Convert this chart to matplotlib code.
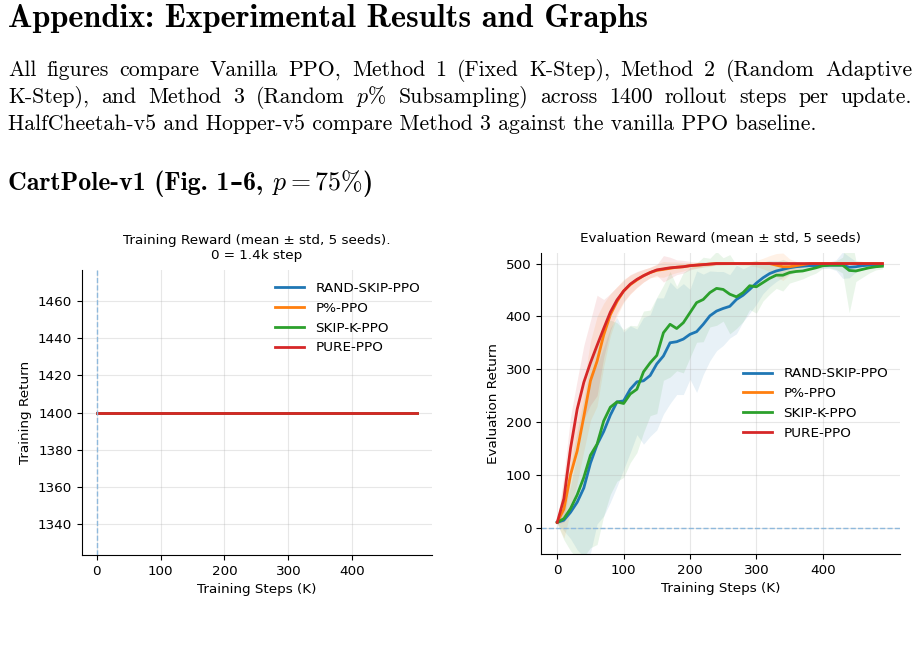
import matplotlib.pyplot as plt
import numpy as np

plt.rcParams['mathtext.fontset'] = 'cm'

# ---- data ----
labels = ['RAND-SKIP-PPO', 'P%-PPO', 'SKIP-K-PPO', 'PURE-PPO']
colors = ['tab:blue', 'tab:orange', 'tab:green', 'tab:red']

# training reward (all runs flat at 1400)
train_steps = [0, 100, 200, 300, 400, 501]
train_rand_skip = [1400, 1400, 1400, 1400, 1400, 1400]
train_p_pct = [1400, 1400, 1400, 1400, 1400, 1400]
train_skip_k = [1400, 1400, 1400, 1400, 1400, 1400]
train_pure = [1400, 1400, 1400, 1400, 1400, 1400]

# evaluation reward, every 10K steps
eval_steps = list(range(0, 500, 10))
eval_rand_skip = [10, 14, 29, 48, 75, 122, 157, 182, 213, 238,
                  240, 262, 276, 278, 288, 310, 325, 350, 352, 357,
                  366, 371, 385, 401, 410, 415, 419, 432, 440, 451,
                  463, 473, 481, 486, 489, 492, 494, 495, 496, 496,
                  496, 497, 497, 497, 493, 494, 496, 497, 498, 498]
eval_p_pct = [10, 35, 100, 145, 210, 278, 315, 365, 403, 428,
              448, 460, 469, 477, 483, 487, 489, 491, 493, 494,
              496, 497, 498, 499, 500, 500, 500, 500, 500, 500,
              500, 500, 500, 497, 494, 494, 496, 498, 500, 500,
              500, 500, 500, 500, 500, 500, 500, 500, 500, 500]
eval_skip_k = [10, 17, 36, 62, 95, 137, 158, 202, 228, 238,
               235, 253, 262, 295, 312, 326, 369, 385, 377, 388,
               407, 426, 432, 445, 453, 451, 442, 437, 445, 458,
               456, 464, 472, 478, 478, 483, 485, 486, 489, 492,
               496, 497, 497, 497, 487, 486, 489, 492, 494, 495]
eval_pure = [10, 55, 150, 224, 275, 312, 345, 377, 408, 431,
             448, 461, 470, 477, 483, 488, 490, 492, 493, 494,
             496, 497, 498, 499, 500, 500, 500, 500, 500, 500,
             500, 500, 500, 500, 500, 500, 500, 500, 500, 500,
             500, 500, 500, 500, 500, 500, 500, 500, 500, 500]

eval_rand_skip_std = [3, 20, 50, 90, 130, 170, 150, 160, 165, 160,
                      130, 120, 100, 120, 115, 125, 110, 115, 100, 105,
                      85, 115, 95, 85, 75, 70, 60, 65, 50, 45,
                      40, 30, 25, 20, 15, 12, 10, 8, 6, 5,
                      5, 6, 10, 25, 20, 10, 8, 5, 4, 3]
eval_p_pct_std = [3, 55, 70, 60, 65, 75, 85, 60, 40, 28,
                  22, 18, 15, 12, 10, 12, 15, 12, 10, 8,
                  6, 5, 4, 3, 3, 3, 2, 2, 3, 4,
                  6, 10, 15, 22, 26, 15, 8, 5, 3, 2,
                  2, 2, 2, 2, 2, 1, 1, 1, 1, 1]
eval_skip_k_std = [3, 40, 80, 120, 150, 175, 190, 180, 165, 150,
                   140, 130, 120, 115, 100, 110, 90, 100, 80, 95,
                   85, 75, 80, 65, 70, 60, 75, 60, 55, 45,
                   50, 35, 30, 25, 30, 20, 18, 15, 12, 10,
                   5, 5, 8, 15, 80, 20, 15, 10, 6, 5]
eval_pure_std = [3, 45, 60, 55, 70, 80, 95, 55, 35, 25,
                 20, 18, 15, 12, 10, 10, 25, 20, 14, 12,
                 8, 6, 5, 4, 3, 2, 2, 2, 2, 1,
                 1, 1, 1, 1, 1, 1, 1, 1, 1, 1,
                 1, 1, 1, 1, 1, 1, 1, 1, 1, 1]

heading = 'Appendix: Experimental Results and Graphs'
para = ['All figures compare Vanilla PPO, Method 1 (Fixed K-Step), Method 2 (Random Adaptive',
        'K-Step), and Method 3 (Random $p$% Subsampling) across 1400 rollout steps per update.',
        'HalfCheetah-v5 and Hopper-v5 compare Method 3 against the vanilla PPO baseline.']
# subheading in pieces: cmb10 has no en dash, so that one comes from DejaVu Serif
sub_parts = ['CartPole-v1 (Fig. 1', '–', '6, ', '$p = 75\\%$', ')']

W, H = 918, 665
fig = plt.figure(figsize=(W / 100, H / 100), dpi=100)
rend = fig.canvas.get_renderer()

ROMAN = ['cmr10', 'DejaVu Serif']
BOLD = ['cmb10', 'DejaVu Serif']


def px(x, y):
    return x / W, 1 - y / H


def fit_text(x, y, s, width, family, size=12):
    # scale the font so that the line is `width` pixels long
    t = fig.text(*px(x, y), s, fontsize=size, family=family, va='baseline')
    w = t.get_window_extent(rend).width
    t.set_fontsize(size * width / w)
    return t.get_fontsize()


def justify(x0, x1, y, s, size, family):
    words = s.split(' ')
    items = [fig.text(0, 0, w, fontsize=size, family=family, va='baseline') for w in words]
    widths = [t.get_window_extent(rend).width for t in items]
    gap = (x1 - x0 - sum(widths)) / (len(words) - 1)
    x = x0
    for t, w in zip(items, widths):
        t.set_position(px(x, y))
        x += w + gap


def pieces(x0, y, parts, styles, width, size):
    items = [fig.text(0, 0, p, fontsize=size, va='baseline', **st) for p, st in zip(parts, styles)]
    widths = [t.get_window_extent(rend).width for t in items]
    k = width / sum(widths)
    x = x0
    for t, w in zip(items, widths):
        t.set_fontsize(size * k)
        t.set_position(px(x, y))
        x += w * k


# ---- text part ----
fit_text(8, 27, heading, 640, BOLD, 17)
fs = fit_text(8, 130, para[2], 807, ROMAN, 12)
justify(8, 912, 76, para[0], fs, ROMAN)
justify(8, 912, 103, para[1], fs, ROMAN)
sub_styles = [dict(family=BOLD),
              dict(family='DejaVu Serif', fontweight='bold'),
              dict(family=BOLD),
              dict(family=ROMAN),
              dict(family=BOLD)]
pieces(8, 190, sub_parts, sub_styles, 365, 15)

FS = 9.7

# ---- training reward ----
ax1 = fig.add_axes([82 / W, 1 - 555 / H, 350 / W, 285 / H])
for y, lab, c in zip([train_rand_skip, train_p_pct, train_skip_k, train_pure], labels, colors):
    ax1.plot(train_steps, y, color=c, lw=2, label=lab)
ax1.axvline(0, ls='--', lw=1, color='#8fb9dc')
ax1.set_xlim(-23, 525)
ax1.set_ylim(1323, 1477)
ax1.set_yticks([1340, 1360, 1380, 1400, 1420, 1440, 1460])
ax1.set_xticks([0, 100, 200, 300, 400])
ax1.set_title('Training Reward (mean ± std, 5 seeds).\n0 = 1.4k step', fontsize=FS, pad=8)
ax1.set_xlabel('Training Steps (K)', fontsize=FS)
ax1.set_ylabel('Training Return', fontsize=FS)
ax1.legend(loc='upper right', frameon=False, fontsize=FS, handlelength=2.2)

# ---- evaluation reward ----
ax2 = fig.add_axes([541 / W, 1 - 554 / H, 359 / W, 301 / H])
means = [eval_rand_skip, eval_p_pct, eval_skip_k, eval_pure]
stds = [eval_rand_skip_std, eval_p_pct_std, eval_skip_k_std, eval_pure_std]
for m, s, lab, c in zip(means, stds, labels, colors):
    m = np.array(m)
    s = np.array(s)
    ax2.fill_between(eval_steps, m - s, m + s, color=c, alpha=0.1, lw=0)
    ax2.plot(eval_steps, m, color=c, lw=2, label=lab)
ax2.axhline(0, ls='--', lw=1, color='#8fb9dc')
ax2.set_xlim(-24.5, 516.5)
ax2.set_ylim(-50, 520)
ax2.set_xticks([0, 100, 200, 300, 400])
ax2.set_title('Evaluation Reward (mean ± std, 5 seeds)', fontsize=FS, pad=8)
ax2.set_xlabel('Training Steps (K)', fontsize=FS)
ax2.set_ylabel('Evaluation Return', fontsize=FS)
ax2.legend(loc='center right', frameon=False, fontsize=FS, handlelength=2.2)

for ax in (ax1, ax2):
    ax.grid(True, alpha=0.3)
    ax.spines['top'].set_visible(False)
    ax.spines['right'].set_visible(False)
    ax.tick_params(labelsize=FS)

fig.savefig('out.png', dpi=100)
